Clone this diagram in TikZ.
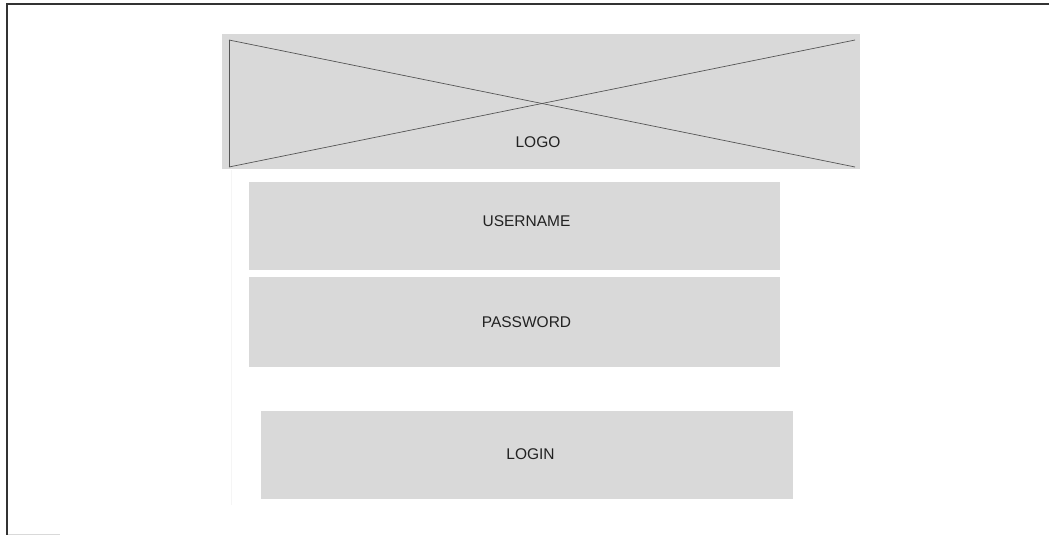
\documentclass[tikz,border=0pt]{standalone}
\usepackage{fontspec}
\setmainfont{Liberation Sans}
\definecolor{boxfill}{HTML}{D9D9D9}
\definecolor{txt}{HTML}{222222}
\definecolor{crossline}{HTML}{555555}
\definecolor{framec}{HTML}{333333}
\begin{document}
\begin{tikzpicture}[x=1pt,y=-1pt,
  wbox/.style={rectangle,fill=boxfill,draw=none,inner sep=0pt},
  wtext/.style={text=txt,font=\fontsize{15.5}{17}\selectfont,inner sep=0pt,anchor=center},
  xline/.style={draw=crossline,line width=0.7pt},
  framel/.style={draw=framec,line width=1.4pt}]
\useasboundingbox (0,0) rectangle (1051,535);
% frame
\coordinate (ftr) at (1049,4);
\coordinate (ftl) at (7,4);
\coordinate (fbl) at (7,535);
\draw[framel] (ftr) -- (ftl) -- (fbl);
\coordinate (bl1) at (8,534);
\coordinate (bl2) at (60,534);
\draw[gray!30,line width=0.8pt] (bl1) -- (bl2);
% faint guide
\coordinate (g1) at (231,170);
\coordinate (g2) at (231,505);
\draw[gray!8,line width=0.8pt] (g1) -- (g2);
% boxes
\node[wbox,minimum width=638pt,minimum height=135pt] (logo) at (541,101.5) {};
\node[wbox,minimum width=531pt,minimum height=88pt] (user) at (514.5,226) {};
\node[wbox,minimum width=531pt,minimum height=90pt] (pass) at (514.5,322) {};
\node[wbox,minimum width=532pt,minimum height=88pt] (login) at (526.5,455) {};
% cross
\coordinate (xa) at (229,40);
\coordinate (xb) at (855,167);
\coordinate (xc) at (229,167);
\coordinate (xd) at (855,40);
\draw[xline] (xc) -- (xa);
\draw[xline] (xa) -- (xb);
\draw[xline] (xc) -- (xd);
% texts
\node[wtext] (tlogo) at (538,142) {LOGO};
\node[wtext] (tuser) at (526.5,221.5) {USERNAME};
\node[wtext] (tpass) at (526.5,322.5) {PASSWORD};
\node[wtext] (tlogin) at (530.5,454) {LOGIN};
\end{tikzpicture}
\end{document}
